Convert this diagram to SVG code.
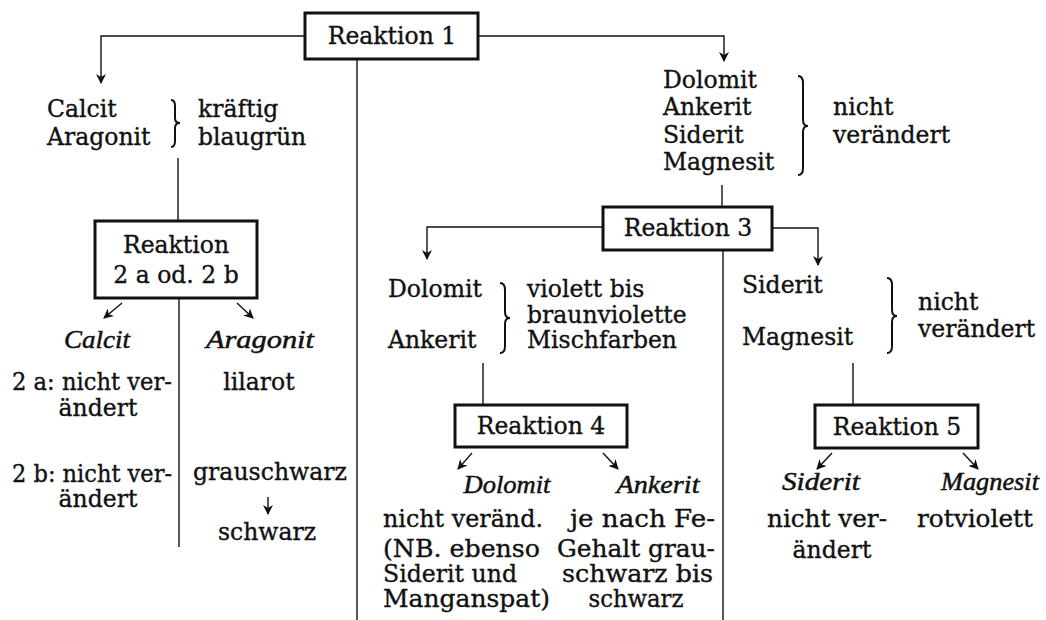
<svg xmlns="http://www.w3.org/2000/svg" width="1046" height="620" viewBox="0 0 1046 620">
<style>
text{font-family:"DejaVu Serif","Liberation Serif",serif;font-size:23.5px;fill:#111;stroke:#111;stroke-width:0.35}
.it{font-family:"Liberation Serif","DejaVu Serif",serif;font-style:italic;font-size:26px;stroke-width:0.5}
.c{text-anchor:middle}
.e{text-anchor:end}
.box{fill:#fff;stroke:#111;stroke-width:3}
.ln{fill:none;stroke:#111;stroke-width:1.4}
.br{fill:none;stroke:#111;stroke-width:2}
</style>
<defs>
<marker id="ah" viewBox="0 0 10 10" refX="9" refY="5" markerWidth="10" markerHeight="10" markerUnits="userSpaceOnUse" orient="auto">
<path d="M0,0 L10,5 L0,10 L3,5 z" fill="#111"/>
</marker>
</defs>
<rect width="1046" height="620" fill="#fff"/>
<g id="connectors">
<path class="ln" d="M305,36 H101 V83" marker-end="url(#ah)"/>
<path class="ln" d="M478,36 H724 V61" marker-end="url(#ah)"/>
<path class="ln" d="M357,59 V620"/>
<path class="ln" d="M178,158 V221"/>
<path class="ln" d="M179,298 V547"/>
<path class="ln" d="M122,303 L104,318" marker-end="url(#ah)"/>
<path class="ln" d="M237,303 L253,318" marker-end="url(#ah)"/>
<path class="ln" d="M268,497 V514" marker-end="url(#ah)"/>
<path class="ln" d="M722,185 V207"/>
<path class="ln" d="M603,227 H427 V259" marker-end="url(#ah)"/>
<path class="ln" d="M772,228 H818 V265" marker-end="url(#ah)"/>
<path class="ln" d="M723,250 V620"/>
<path class="ln" d="M483,363 V405"/>
<path class="ln" d="M472,453 L458,469" marker-end="url(#ah)"/>
<path class="ln" d="M603,453 L618,469" marker-end="url(#ah)"/>
<path class="ln" d="M853,363 V405"/>
<path class="ln" d="M832,453 L817,469" marker-end="url(#ah)"/>
<path class="ln" d="M963,453 L978,469" marker-end="url(#ah)"/>
</g>
<g id="reaktion1">
<rect class="box" x="305" y="13" width="173" height="46"/>
<text class="c" x="392" y="44">Reaktion  1</text>
</g>
<g id="calcit-aragonit">
<text x="47" y="117">Calcit</text>
<text x="47" y="145">Aragonit</text>
<path class="br" d="M171,100 Q175,100 175,106 L175,118 Q175,123 180,123 Q175,123 175,128 L175,141 Q175,147 171,147"/>
<text x="198" y="117">kräftig</text>
<text x="198" y="145">blaugrün</text>
</g>
<g id="dolomit-gruppe">
<text x="663" y="88">Dolomit</text>
<text x="663" y="115">Ankerit</text>
<text x="663" y="143">Siderit</text>
<text x="663" y="170">Magnesit</text>
<path class="br" d="M798,76 Q803,76 803,83 L803,120 Q803,126 808,126 Q803,126 803,132 L803,168 Q803,175 798,175"/>
<text x="833" y="115">nicht</text>
<text x="833" y="143">verändert</text>
</g>
<g id="reaktion2">
<rect class="box" x="95" y="221" width="162" height="77"/>
<text class="c" x="176" y="253">Reaktion</text>
<text class="c" x="176" y="283">2 a  od.  2 b</text>
</g>
<g id="calcit-2">
<text class="c it" x="97" y="348" textLength="66" lengthAdjust="spacingAndGlyphs">Calcit</text>
<text x="12" y="390" textLength="160" lengthAdjust="spacingAndGlyphs">2 a: nicht ver-</text>
<text class="c" x="98" y="416">ändert</text>
<text x="12" y="482" textLength="160" lengthAdjust="spacingAndGlyphs">2 b: nicht ver-</text>
<text class="c" x="98" y="507">ändert</text>
</g>
<g id="aragonit-2">
<text class="c it" x="260" y="348" textLength="108" lengthAdjust="spacingAndGlyphs">Aragonit</text>
<text class="c" x="259" y="390">lilarot</text>
<text class="c" x="270" y="480" textLength="154" lengthAdjust="spacingAndGlyphs">grauschwarz</text>
<text class="c" x="267" y="540">schwarz</text>
</g>
<g id="reaktion3">
<rect class="box" x="603" y="207" width="169" height="43"/>
<text class="c" x="688" y="236">Reaktion  3</text>
</g>
<g id="dolomit-ankerit">
<text x="388" y="297">Dolomit</text>
<text x="388" y="348">Ankerit</text>
<path class="br" d="M500,283 Q505,283 505,290 L505,312 Q505,318 510,318 Q505,318 505,324 L505,346 Q505,353 500,353"/>
<text x="527" y="297">violett  bis</text>
<text x="527" y="323">braunviolette</text>
<text x="527" y="348">Mischfarben</text>
</g>
<g id="siderit-magnesit">
<text x="742" y="293">Siderit</text>
<text x="742" y="345">Magnesit</text>
<path class="br" d="M887,278 Q892,278 892,285 L892,310 Q892,316 897,316 Q892,316 892,322 L892,346 Q892,353 887,353"/>
<text x="918" y="310">nicht</text>
<text x="918" y="337">verändert</text>
</g>
<g id="reaktion4">
<rect class="box" x="455" y="405" width="172" height="42"/>
<text class="c" x="541" y="434">Reaktion  4</text>
</g>
<g id="dolomit-4">
<text class="c it" x="507" y="493" textLength="87" lengthAdjust="spacingAndGlyphs">Dolomit</text>
<text x="383" y="527" textLength="160" lengthAdjust="spacingAndGlyphs">nicht veränd.</text>
<text x="383" y="557" textLength="157" lengthAdjust="spacingAndGlyphs">(NB. ebenso</text>
<text x="383" y="582" textLength="134" lengthAdjust="spacingAndGlyphs">Siderit  und</text>
<text x="383" y="607" textLength="167" lengthAdjust="spacingAndGlyphs">Manganspat)</text>
</g>
<g id="ankerit-4">
<text class="c it" x="658" y="493" textLength="83" lengthAdjust="spacingAndGlyphs">Ankerit</text>
<text x="570" y="527" textLength="145" lengthAdjust="spacingAndGlyphs">je nach Fe-</text>
<text x="557" y="557" textLength="158" lengthAdjust="spacingAndGlyphs">Gehalt grau-</text>
<text x="562" y="582" textLength="151" lengthAdjust="spacingAndGlyphs">schwarz bis</text>
<text class="c" x="636" y="607" textLength="95" lengthAdjust="spacingAndGlyphs">schwarz</text>
</g>
<g id="reaktion5">
<rect class="box" x="815" y="405" width="163" height="43"/>
<text class="c" x="897" y="435">Reaktion  5</text>
</g>
<g id="siderit-5">
<text class="c it" x="821" y="490" textLength="78" lengthAdjust="spacingAndGlyphs">Siderit</text>
<text class="c" x="827" y="527" textLength="120" lengthAdjust="spacingAndGlyphs">nicht  ver-</text>
<text class="c" x="832" y="558">ändert</text>
</g>
<g id="magnesit-5">
<text class="c it" x="990" y="490" textLength="98" lengthAdjust="spacingAndGlyphs">Magnesit</text>
<text class="c" x="975" y="527" textLength="116" lengthAdjust="spacingAndGlyphs">rotviolett</text>
</g>
</svg>
